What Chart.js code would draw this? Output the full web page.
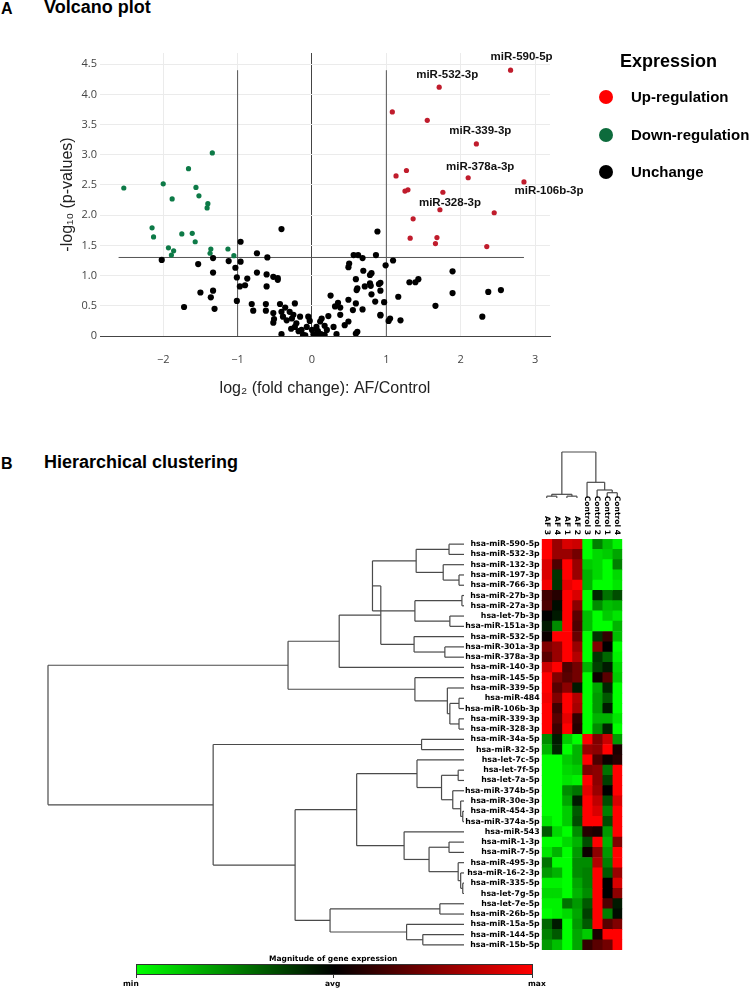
<!DOCTYPE html>
<html>
<head>
<meta charset="utf-8">
<script src="https://cdn.jsdelivr.net/npm/chart.js@4.4.0/dist/chart.umd.min.js"></script>
<style>
    body { margin: 0; width: 750px; height: 991px; background: #fff; position: relative; overflow: hidden;
        font-family: Arial, "Liberation Sans", sans-serif; }
    .abs { position: absolute; }
    .panel { font-weight: bold; font-size: 16px; color: #000; }
    .panel-title { font-weight: bold; font-size: 18px; color: #000; }
    .legend-title { font-weight: bold; font-size: 18px; }
    .legend-item { font-weight: bold; font-size: 15px; line-height: 18px; }
    .dot { width: 14px; height: 14px; border-radius: 50%; }
    .cbar-text { font-family: "DejaVu Sans", sans-serif; font-weight: bold; font-size: 7.5px; color: #000; }
</style>
</head>
<body>
<div class="abs panel" style="left:1px;top:0px">A</div>
<div class="abs panel-title" style="left:44px;top:-3px">Volcano plot</div>

<div class="abs" style="left:0;top:0"><canvas id="volcano" width="750" height="410"></canvas></div>

<div class="abs legend-title" style="left:620px;top:51px">Expression</div>
<div class="abs dot" style="left:599px;top:90px;background:#ff0000"></div>
<div class="abs legend-item" style="left:631px;top:88px">Up-regulation</div>
<div class="abs dot" style="left:599px;top:128px;background:#0d6b3c"></div>
<div class="abs legend-item" style="left:631px;top:126px">Down-regulation</div>
<div class="abs dot" style="left:599px;top:165px;background:#000"></div>
<div class="abs legend-item" style="left:631px;top:163px">Unchange</div>

<div class="abs panel" style="left:1px;top:455px">B</div>
<div class="abs panel-title" style="left:44px;top:452px">Hierarchical clustering</div>

<div class="abs" style="left:0;top:440px"><canvas id="heatmap" width="750" height="551"></canvas></div>

<div class="abs cbar-text" style="left:269px;top:954px">Magnitude of gene expression</div>
<div class="abs" style="left:136px;top:964px;width:397px;height:11px;box-sizing:border-box;border:1px solid #333;
     background:linear-gradient(to right,#00ff00,#000000 50%,#ff0000)"></div>
<div class="abs" style="left:136px;top:975px;width:1px;height:3px;background:#333"></div>
<div class="abs" style="left:333px;top:975px;width:1px;height:3px;background:#333"></div>
<div class="abs" style="left:532px;top:975px;width:1px;height:3px;background:#333"></div>
<div class="abs cbar-text" style="left:123px;top:979px">min</div>
<div class="abs cbar-text" style="left:325px;top:979px">avg</div>
<div class="abs cbar-text" style="left:528px;top:979px">max</div>

<script>
// ---- volcano plot data: log2 fold change (x) and -log10 p (y) ----
const upX = [2.67, 1.71, 1.08, 1.55, 2.21, 1.27, 1.13, 2.10, 2.85, 1.25, 1.29, 1.76, 1.72, 2.45, 1.36, 1.32, 1.68, 1.66, 2.35];
const upY = [4.40, 4.12, 3.71, 3.57, 3.18, 2.74, 2.65, 2.62, 2.55, 2.40, 2.42, 2.38, 2.09, 2.04, 1.94, 1.62, 1.63, 1.53, 1.48];

const downX = [-1.34, -1.66, -2.53, -2.00, -1.56, -1.52, -1.88, -1.40, -1.41, -2.15, -2.13, -1.75, -1.61, -1.57,
    -1.13, -1.36, -1.37, -1.93, -1.86, -1.89, -1.05];
const downY = [3.03, 2.77, 2.45, 2.52, 2.46, 2.32, 2.27, 2.19, 2.12, 1.79, 1.64, 1.69, 1.70, 1.56,
    1.44, 1.44, 1.37, 1.46, 1.41, 1.34, 1.33];

const flatX = [-2.02, -1.53, -1.33, -1.12, -0.96, -0.96, -1.03, -1.33, -1.01, -0.87, -0.97, -0.90, -0.74, -0.60,
    -0.41, -0.74, -0.61, -0.52, -0.46, -0.46, -0.61, -1.50, -1.33, -1.36, -1.72, -1.31, -1.01, -0.81, -0.79,
    -0.62, -0.62, -0.52, -0.51, -0.52, -0.43, -0.36, -0.41, -0.39, -0.34, -0.30, -0.25, -0.23, -0.27, -0.21,
    -0.23, -0.16, -0.14, -0.12, -0.09, -0.05, -0.03, -0.07, 0.00, 0.02, 0.04, 0.09, 0.06, 0.11, 0.13, 0.17,
    0.20, 0.17, 0.22, 0.25, 0.31, 0.29, 0.33, 0.35, 0.38, 0.38, 0.44, 0.49, 0.49, 0.55, 0.49, 0.50, 0.56,
    0.62, 0.68, 0.59, 0.60, 0.61, 0.59, 0.59, 0.61, 0.69, 0.68, 0.71, 0.78, 0.79, 0.78, 0.80, 0.80, 0.85,
    0.88, 0.86, 0.90, 0.92, 0.92, 1.09, 0.99, 0.92, 1.31, 1.39, 1.43, 1.89, 1.89, 1.16, 0.97, 1.66, 0.92,
    1.03, 1.05, 1.19, 2.29, 2.37, 2.54, -0.41, 0.12, -0.18, -0.28, 0.08];
const flatY = [1.26, 1.19, 1.29, 1.24, 1.56, 1.23, 1.13, 1.05, 0.97, 0.95, 0.82, 0.84, 1.37, 1.30,
    1.77, 1.05, 1.02, 0.98, 0.96, 0.93, 0.82, 0.72, 0.75, 0.64, 0.48, 0.45, 0.58, 0.53, 0.42,
    0.53, 0.42, 0.38, 0.28, 0.22, 0.53, 0.47, 0.40, 0.32, 0.26, 0.40, 0.35, 0.54, 0.29, 0.21,
    0.15, 0.32, 0.10, 0.02, 0.01, 0.32, 0.25, 0.15, 0.10, 0.03, 0.02, 0.03, 0.15, 0.24, 0.29, 0.17,
    0.10, 0.02, 0.33, 0.67, 0.49, 0.15, 0.03, 0.55, 0.47, 0.35, 0.18, 0.24, 0.60, 0.43, 1.14, 1.20, 1.34,
    1.34, 1.29, 0.94, 0.76, 0.79, 0.54, 0.04, 0.07, 1.08, 0.44, 0.82, 0.87, 0.83, 1.01, 1.04, 0.69, 0.57,
    1.73, 1.34, 0.86, 0.75, 0.35, 1.25, 1.17, 0.88, 0.89, 0.89, 0.94, 1.07, 0.71, 0.65, 0.56, 0.50, 0.34,
    0.25, 0.29, 0.26, 0.32, 0.73, 0.76, 0.03, 0.03, 0.08, 0.12, 0.08];

// named miRNAs: index into the up-regulated arrays
const namedMirs = ['miR-590-5p', 'miR-532-3p', 'miR-339-3p', 'miR-378a-3p', 'miR-106b-3p', 'miR-328-3p'];
const namedIdx = [0, 1, 4, 7, 8, 12];
const nameShift = [[11, -13], [8, -12], [4, -13], [12, -11], [25, 9], [10, -7]];

// cut-offs
const fcCut = [-1, 1];
const fcLineTop = 4.4;
const pCut = 1.3;
const pLineRange = [-2.6, 2.85];

// ---- heatmap data ----
const heatCols = ['AF 3', 'AF 4', 'AF 1', 'AF 2', 'Control 3', 'Control 2', 'Control 1', 'Control 4'];
const heatRows = ['hsa-miR-590-5p', 'hsa-miR-532-3p', 'hsa-miR-132-3p', 'hsa-miR-197-3p', 'hsa-miR-766-3p',
    'hsa-miR-27b-3p', 'hsa-miR-27a-3p', 'hsa-let-7b-3p', 'hsa-miR-151a-3p', 'hsa-miR-532-5p',
    'hsa-miR-301a-3p', 'hsa-miR-378a-3p', 'hsa-miR-140-3p', 'hsa-miR-145-5p', 'hsa-miR-339-5p',
    'hsa-miR-484', 'hsa-miR-106b-3p', 'hsa-miR-339-3p', 'hsa-miR-328-3p', 'hsa-miR-34a-5p',
    'hsa-miR-32-5p', 'hsa-let-7c-5p', 'hsa-let-7f-5p', 'hsa-let-7a-5p', 'hsa-miR-374b-5p',
    'hsa-miR-30e-3p', 'hsa-miR-454-3p', 'hsa-miR-374a-5p', 'hsa-miR-543', 'hsa-miR-1-3p',
    'hsa-miR-7-5p', 'hsa-miR-495-3p', 'hsa-miR-16-2-3p', 'hsa-miR-335-5p', 'hsa-let-7g-5p',
    'hsa-let-7e-5p', 'hsa-miR-26b-5p', 'hsa-miR-15a-5p', 'hsa-miR-144-5p', 'hsa-miR-15b-5p'];
// -1 = min (green), 0 = avg (black), 1 = max (red)
const heatValues = [
    [1, 0.6, 0.85, 0.8, -1, -0.5, -0.75, -0.95],
    [1, 0.6, 0.6, 0.45, -1, -0.85, -0.8, -0.65],
    [0.85, 0.3, 1, 0.6, -0.8, -0.85, -1, -0.5],
    [0.85, -0.2, 1, 0.6, -0.7, -0.85, -1, -0.85],
    [0.95, -0.2, 0.9, 1, -0.7, -1, -1, -0.9],
    [0.25, 0.15, 1, 0.85, -1, -0.15, -0.45, -0.3],
    [0.3, -0.05, 1, 0.55, -1, -0.55, -0.75, -0.7],
    [0.0, -0.1, 1, 0.35, -0.75, -1, -0.8, -0.9],
    [-0.1, -0.55, 1, 0.3, -0.75, -1, -1, -0.7],
    [0.05, 1, 1, 0.4, -1, -0.2, 0.2, -0.75],
    [0.5, 0.6, 1, 0.6, -1, 0.5, 0.0, -1],
    [0.35, 0.6, 1, 0.7, -1, -0.2, -0.4, -0.95],
    [0.8, 1, 0.3, 0.45, -0.7, -0.25, -0.1, -0.85],
    [1, 0.5, 0.35, 0.45, -1, 0.05, 0.35, -0.8],
    [1, 0.35, 0.55, -0.1, -1, -0.65, -0.15, -1],
    [0.95, 0.5, 1, 0.7, -1, -0.6, -0.35, -1],
    [1, 0.25, 1, 0.65, -1, -0.6, -0.1, -1],
    [1, 0.35, 0.9, 0.2, -1, -0.7, -0.7, -0.9],
    [1, 0.25, 1, 0.15, -1, -0.55, -0.15, -1],
    [-0.55, -0.1, -0.8, -1, 1, 0.5, 0.8, -0.6],
    [-0.7, -0.15, -1, -0.7, 0.6, 0.55, 1, 0.1],
    [-1, -1, -0.8, -0.7, 1, 0.3, 0.05, 0.15],
    [-1, -1, -0.85, -0.8, 0.5, 0.55, -0.45, 1],
    [-1, -1, -0.9, -0.95, 1, 0.55, -0.25, 1],
    [-1, -1, -0.55, -0.45, 0.9, 0.6, 0.0, 1],
    [-1, -1, -0.65, -0.1, 1, 0.75, -0.3, 0.85],
    [-1, -1, -0.8, -0.35, 1, 0.85, -0.5, 1],
    [-0.9, -1, -0.8, -0.3, 1, 1, -0.3, 1],
    [-0.35, -0.85, -1, -0.55, 0.15, 0.1, -0.6, 1],
    [-1, -1, -0.85, -0.7, -0.3, 1, -0.7, 0.5],
    [-0.9, -0.7, -1, -0.6, 0.05, 0.55, -0.6, 1],
    [-0.45, -1, -1, -0.55, -0.55, 0.7, -0.5, 1],
    [-0.6, -0.7, -1, -0.55, -0.5, 1, -0.35, 0.6],
    [-0.95, -0.95, -1, -0.65, -0.5, 1, 0.0, 0.85],
    [-0.85, -0.85, -1, -0.7, -0.55, 1, 0.0, 0.55],
    [-0.95, -0.95, -0.45, -0.6, -0.35, 1, 0.3, -0.1],
    [-1, -0.95, -0.85, -0.65, -0.25, 1, -0.5, -0.05],
    [-0.4, -0.1, -1, -0.6, -0.35, 1, 0.35, 0.5],
    [-0.5, -0.35, -1, -0.65, -0.8, 0.1, 1, 1],
    [-0.6, -0.75, -1, -0.65, 0.2, 0.35, 0.45, 1]
];

// dendrograms: [height, left, right], leaves are row / column indices
const rowTree = [1,
    [0.423,
        [0.30,
            [0.20,
                [0.22, [0.115, [0.036, 0, 1], [0.050, 2, [0.012, 3, 4]]], [0.118, [0.005, 5, 6], [0.034, 7, 8]]],
                [0.12, 9, [0.046, 10, 11]]],
            12],
        [0.118, 13, [0.040, 14, [0.034, [0.012, 15, 16], [0.012, 17, 18]]]]],
    [0.603,
        [0.102, 19, 20],
        [0.406,
            [0.258,
                [0.113, 21, [0.054, [0.014, 22, 23], [0.027, 24, [0.008, 25, [0.003, 26, 27]]]]],
                [0.144, 28, [0.084, [0.036, 29, 30], [0.014, 31, [0.008, 32, [0.003, 33, 34]]]]]],
            [0.322, [0.058, 35, 36], [0.138, 37, [0.099, 38, 39]]]]]];
const colTree = [1,
    [0.08, [0.04, 0, 1], [0.04, 2, 3]],
    [0.341, 4, [0.174, 5, [0.115, 6, 7]]]];


Chart.defaults.font.family = 'Arial, "Liberation Sans", sans-serif';

const toPoints = (xs, ys) => xs.map((x, i) => ({x: x, y: ys[i]}));

const mirLabels = {
    id: 'mirLabels',
    afterDatasetsDraw(chart) {
        const {ctx, scales: {x, y}} = chart;
        ctx.save();
        ctx.font = 'bold 11.5px Arial, "Liberation Sans", sans-serif';
        ctx.fillStyle = '#111';
        ctx.textAlign = 'center';
        ctx.textBaseline = 'middle';
        namedMirs.forEach((name, k) => {
            const i = namedIdx[k];
            ctx.fillText(name, x.getPixelForValue(upX[i]) + nameShift[k][0], y.getPixelForValue(upY[i]) + nameShift[k][1]);
        });
        ctx.restore();
    }
};

const cutLine = (pts) => ({
    data: pts, showLine: true, borderColor: '#555', borderWidth: 1, pointRadius: 0, order: 3
});

new Chart(document.getElementById('volcano'), {
    type: 'scatter',
    data: {
        datasets: [
            {label: 'Unchange', data: toPoints(flatX, flatY), backgroundColor: '#000', borderWidth: 0, pointRadius: 3.1, order: 0},
            {label: 'Up-regulation', data: toPoints(upX, upY), backgroundColor: '#c01c2c', borderWidth: 0, pointRadius: 2.6, order: 1},
            {label: 'Down-regulation', data: toPoints(downX, downY), backgroundColor: '#0d7a47', borderWidth: 0, pointRadius: 2.6, order: 1},
            cutLine([{x: fcCut[0], y: 0}, {x: fcCut[0], y: fcLineTop}]),
            cutLine([{x: fcCut[1], y: 0}, {x: fcCut[1], y: fcLineTop}]),
            cutLine([{x: pLineRange[0], y: pCut}, {x: pLineRange[1], y: pCut}])
        ]
    },
    options: {
        responsive: false,
        animation: false,
        layout: {padding: {left: 0, right: 200, top: 53, bottom: 0}},
        plugins: {legend: {display: false}, tooltip: {enabled: false}},
        scales: {
            x: {
                type: 'linear', min: -2.85, max: 3.2,
                grid: {color: c => c.tick && c.tick.value === 0 ? '#444' : '#ebebeb', drawTicks: false},
                border: {display: true, color: '#444'},
                ticks: {stepSize: 1, includeBounds: false, padding: 17, color: '#444',
                    font: {family: '"Open Sans", Arial, sans-serif', size: 11},
                    callback: v => String(v).replace('-', '\u2212')},
                title: {display: true, text: 'log\u2082 (fold change): AF/Control', color: '#222',
                    font: {size: 16}, padding: {top: 0, bottom: 12}},
                afterFit: s => { s.height = 74; }
            },
            y: {
                type: 'linear', min: 0, max: 4.685,
                grid: {color: c => c.tick && c.tick.value === 0 ? '#444' : '#ebebeb', drawTicks: false},
                border: {display: false},
                ticks: {stepSize: 0.5, includeBounds: false, padding: 3, color: '#444',
                    font: {family: '"Open Sans", Arial, sans-serif', size: 11}},
                title: {display: true, text: '-log\u2081\u2080 (p-values)', color: '#222',
                    font: {size: 16}, padding: {top: 58, bottom: 0}},
                afterFit: s => { s.width = 100; }
            }
        }
    },
    plugins: [mirLabels]
});

// ---- heatmap ----
const colorFor = v => v >= 0 ? `rgb(${Math.round(255 * v)},0,0)` : `rgb(0,${Math.round(-255 * v)},0)`;

function drawTree(ctx, tree, leafAt, depthAt, rows) {
    const seg = (a1, d1, a2, d2) => {
        ctx.beginPath();
        if (rows) { ctx.moveTo(d1, a1); ctx.lineTo(d2, a2); } else { ctx.moveTo(a1, d1); ctx.lineTo(a2, d2); }
        ctx.stroke();
    };
    const walk = node => {
        if (typeof node === 'number') return {a: leafAt(node), d: depthAt(0)};
        const p1 = walk(node[1]);
        const p2 = walk(node[2]);
        const d = depthAt(node[0]);
        seg(p1.a, p1.d, p1.a, d);
        seg(p2.a, p2.d, p2.a, d);
        seg(p1.a, d, p2.a, d);
        return {a: (p1.a + p2.a) / 2, d: d};
    };
    walk(tree);
}

const dendro = {
    id: 'dendro',
    afterDraw(chart) {
        const {ctx, chartArea, scales: {x, y}} = chart;
        ctx.save();
        ctx.strokeStyle = '#4a4a4a';
        ctx.lineWidth = 1.2;
        // rows: leaves end at x=464, root at x=48
        drawTree(ctx, rowTree, i => y.getPixelForValue(i), h => 464 - h * 416, true);
        // columns: leaves end 41px above the heatmap, root 46px higher
        const leafTop = chartArea.top - 41;
        drawTree(ctx, colTree, j => x.getPixelForValue(j + 0.5), h => leafTop - h * 46, false);

        ctx.fillStyle = '#000';
        ctx.font = 'bold 7.6px "DejaVu Sans", sans-serif';
        ctx.textAlign = 'right';
        ctx.textBaseline = 'middle';
        heatCols.forEach((c, j) => {
            ctx.save();
            ctx.translate(x.getPixelForValue(j + 0.5), chartArea.top - 4);
            ctx.rotate(Math.PI / 2);
            ctx.fillText(c, 0, 0);
            ctx.restore();
        });
        ctx.restore();
    }
};

new Chart(document.getElementById('heatmap'), {
    type: 'bar',
    data: {
        labels: heatRows,
        datasets: heatCols.map((col, j) => ({
            label: col,
            data: heatRows.map(() => 1),
            backgroundColor: heatValues.map(r => colorFor(r[j])),
            borderWidth: 0,
            barPercentage: 1,
            categoryPercentage: 1
        }))
    },
    options: {
        indexAxis: 'y',
        responsive: false,
        animation: false,
        layout: {padding: {left: 0, right: 127.7, top: 99, bottom: 41}},
        plugins: {legend: {display: false}, tooltip: {enabled: false}},
        scales: {
            x: {stacked: true, min: 0, max: heatCols.length, display: false},
            y: {
                stacked: true,
                grid: {display: false, drawTicks: false},
                border: {display: false},
                ticks: {autoSkip: false, padding: 2, color: '#000',
                    font: {family: '"DejaVu Sans", sans-serif', weight: 'bold', size: 7.8}},
                afterFit: s => { s.width = 541.7; }
            }
        }
    },
    plugins: [dendro]
});
</script>
</body>
</html>
